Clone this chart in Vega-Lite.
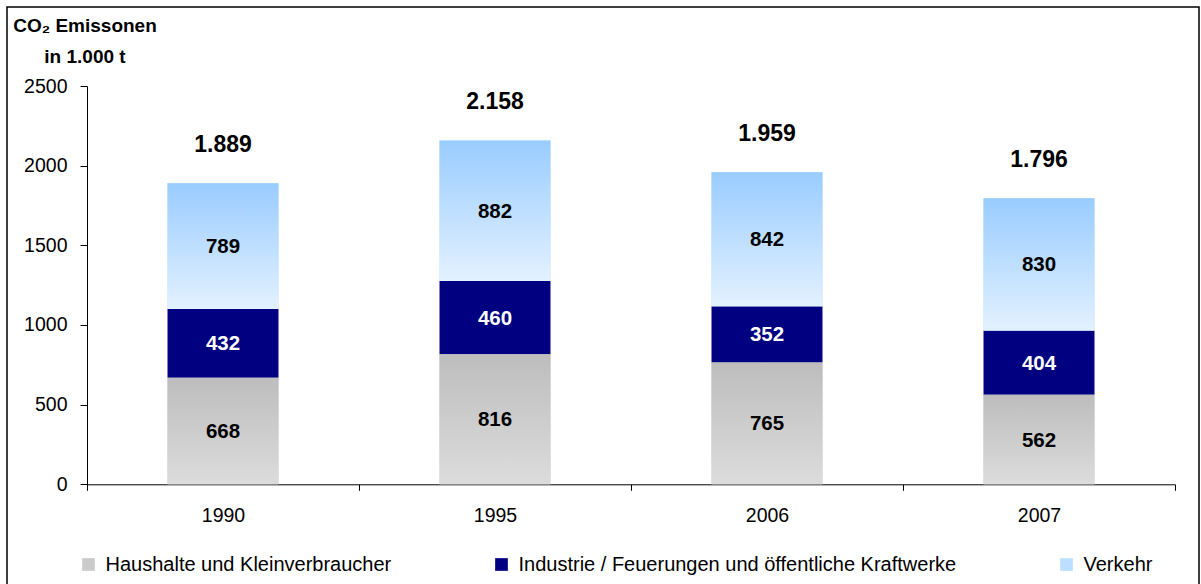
{
  "$schema": "https://vega.github.io/schema/vega-lite/v6.json",
  "width": 1192,
  "height": 590,
  "autosize": {"type": "none"},
  "padding": {"left": 7, "top": 7, "right": 2, "bottom": 0},
  "config": {
    "locale": {"number": {"decimal": ",", "thousands": ".", "grouping": [3], "currency": ["", " €"]}},
    "view": {"stroke": "black", "strokeWidth": 1.5},
    "font": "Liberation Sans",
    "axis": {"labelColor": "black", "domainColor": "black", "tickColor": "black", "grid": false, "labelFont": "Liberation Sans", "titleFont": "Liberation Sans"}
  },
  "data": {
    "values": [
      {"Jahr": "1990", "Quelle": "Haushalte und Kleinverbraucher", "Wert": 668},
      {"Jahr": "1990", "Quelle": "Industrie / Feuerungen und öffentliche Kraftwerke", "Wert": 432},
      {"Jahr": "1990", "Quelle": "Verkehr", "Wert": 789},
      {"Jahr": "1995", "Quelle": "Haushalte und Kleinverbraucher", "Wert": 816},
      {"Jahr": "1995", "Quelle": "Industrie / Feuerungen und öffentliche Kraftwerke", "Wert": 460},
      {"Jahr": "1995", "Quelle": "Verkehr", "Wert": 882},
      {"Jahr": "2006", "Quelle": "Haushalte und Kleinverbraucher", "Wert": 765},
      {"Jahr": "2006", "Quelle": "Industrie / Feuerungen und öffentliche Kraftwerke", "Wert": 352},
      {"Jahr": "2006", "Quelle": "Verkehr", "Wert": 842},
      {"Jahr": "2007", "Quelle": "Haushalte und Kleinverbraucher", "Wert": 562},
      {"Jahr": "2007", "Quelle": "Industrie / Feuerungen und öffentliche Kraftwerke", "Wert": 404},
      {"Jahr": "2007", "Quelle": "Verkehr", "Wert": 830}
    ]
  },
  "encoding": {
    "x": {
      "field": "Jahr",
      "type": "nominal",
      "scale": {"range": [80, 1168], "paddingInner": 0, "paddingOuter": 0},
      "axis": {
        "title": null,
        "labelAngle": 0,
        "labelFontSize": 19.5,
        "labelPadding": 16,
        "tickSize": 6,
        "tickBand": "extent",
        "domainWidth": 1,
        "tickWidth": 1,
        "offset": -112.7
      }
    }
  },
  "layer": [
    {
      "mark": {"type": "bar", "width": {"band": 0.408}},
      "encoding": {
        "y": {
          "field": "Wert",
          "type": "quantitative",
          "stack": "zero",
          "scale": {"domain": [0, 2500], "nice": false, "range": [477.3, 79]},
          "axis": {
            "title": ["CO₂ Emissonen", "in 1.000 t"],
            "titleAngle": 0,
            "titleAlign": "center",
            "titleBaseline": "alphabetic",
            "titleX": -2.5,
            "titleY": 24.7,
            "titleFontSize": 19,
            "titleFontWeight": "bold",
            "titleLineHeight": 30.6,
            "titleColor": "black",
            "values": [0, 500, 1000, 1500, 2000, 2500],
            "format": "d",
            "labelFontSize": 19.5,
            "labelPadding": 13,
            "tickSize": 7,
            "domainWidth": 1,
            "tickWidth": 1,
            "offset": -80
          }
        },
        "order": {"field": "Quelle", "type": "nominal", "sort": "ascending"},
        "color": {
          "field": "Quelle",
          "type": "nominal",
          "scale": {
            "domain": ["Haushalte und Kleinverbraucher", "Industrie / Feuerungen und öffentliche Kraftwerke", "Verkehr"],
            "range": ["#cbcbcb", "#000080", "#bddfff"]
          },
          "legend": {
            "orient": "none",
            "legendX": 71.5,
            "legendY": 547.5,
            "direction": "horizontal",
            "title": null,
            "symbolType": "square",
            "symbolSize": 161,
            "symbolStrokeWidth": 0,
            "labelFontSize": 20,
            "labelColor": "black",
            "labelOffset": 7,
            "columnPadding": 100,
            "labelLimit": 1000,
            "padding": 0
          }
        }
      }
    },
    {
      "transform": [
        {"stack": "Wert", "groupby": ["Jahr"], "sort": [{"field": "Quelle", "order": "ascending"}], "as": ["y0", "y1"]},
        {"filter": "datum.Quelle === 'Haushalte und Kleinverbraucher'"}
      ],
      "mark": {
        "type": "bar",
        "width": {"band": 0.408},
        "color": {"gradient": "linear", "x1": 0, "y1": 0, "x2": 0, "y2": 1, "stops": [{"offset": 0, "color": "#bdbdbd"}, {"offset": 1, "color": "#dcdcdc"}]}
      },
      "encoding": {
        "y": {"field": "y0", "type": "quantitative", "scale": {"domain": [0, 2500], "nice": false, "range": [477.3, 79]}},
        "y2": {"field": "y1"}
      }
    },
    {
      "transform": [
        {"stack": "Wert", "groupby": ["Jahr"], "sort": [{"field": "Quelle", "order": "ascending"}], "as": ["y0", "y1"]},
        {"filter": "datum.Quelle === 'Verkehr'"}
      ],
      "mark": {
        "type": "bar",
        "width": {"band": 0.408},
        "color": {"gradient": "linear", "x1": 0, "y1": 0, "x2": 0, "y2": 1, "stops": [{"offset": 0, "color": "#99ccff"}, {"offset": 1, "color": "#e3f1ff"}]}
      },
      "encoding": {
        "y": {"field": "y0", "type": "quantitative", "scale": {"domain": [0, 2500], "nice": false, "range": [477.3, 79]}},
        "y2": {"field": "y1"}
      }
    },
    {
      "mark": {"type": "text", "fontSize": 20.5, "fontWeight": "bold", "baseline": "middle", "dy": 1},
      "encoding": {
        "y": {"field": "Wert", "type": "quantitative", "stack": "zero", "bandPosition": 0.5, "scale": {"domain": [0, 2500], "nice": false, "range": [477.3, 79]}},
        "detail": {"field": "Quelle"},
        "order": {"field": "Quelle", "type": "nominal", "sort": "ascending"},
        "text": {"field": "Wert", "type": "quantitative", "format": "d"},
        "color": {
          "condition": {"test": "datum.Quelle === 'Industrie / Feuerungen und öffentliche Kraftwerke'", "value": "white"},
          "value": "black"
        }
      }
    },
    {
      "mark": {"type": "text", "fontSize": 23, "fontWeight": "bold", "baseline": "middle", "dy": -38},
      "encoding": {
        "y": {"aggregate": "sum", "field": "Wert", "type": "quantitative", "scale": {"domain": [0, 2500], "nice": false, "range": [477.3, 79]}},
        "text": {"aggregate": "sum", "field": "Wert", "type": "quantitative", "format": ",d"},
        "color": {"value": "black"}
      }
    }
  ]
}
